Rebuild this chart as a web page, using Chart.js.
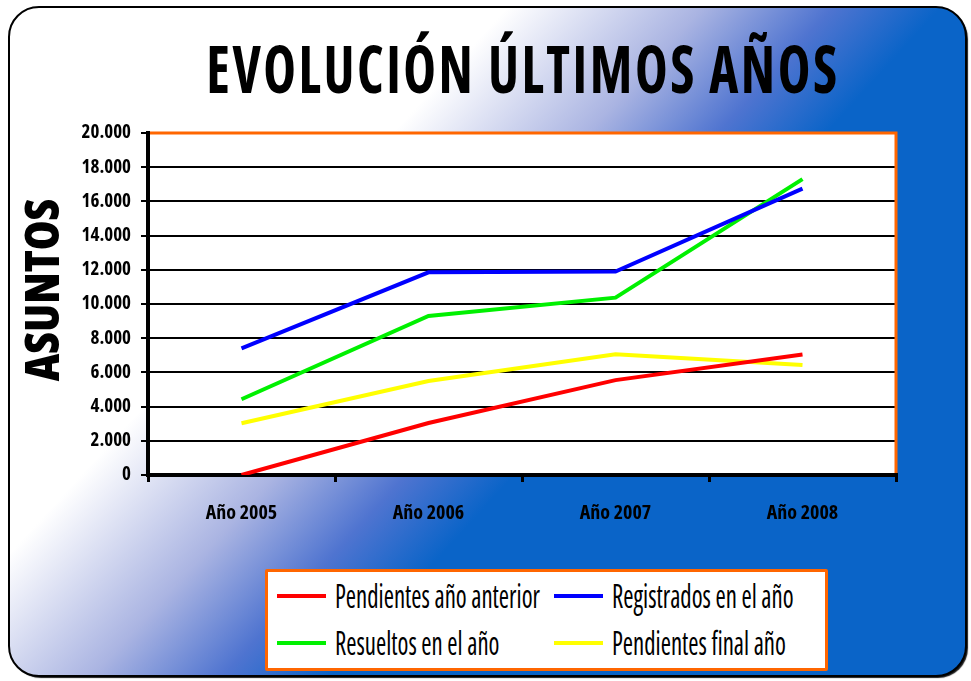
<!DOCTYPE html>
<html>
<head>
<meta charset="utf-8">
<script src="https://cdn.jsdelivr.net/npm/chart.js@4"></script>
<style>
  html, body { margin: 0; padding: 0; background: #fff; }
  #wrap { position: relative; width: 971px; height: 681px; }
  #titulo {
    position: absolute; left: 523px; top: 34px; white-space: nowrap;
    font-family: "Open Sans", sans-serif; font-weight: 700; font-stretch: 75%;
    font-size: 66px; line-height: 1; letter-spacing: 3px; color: #000;
    transform: translateX(-50%) scaleX(0.837);
  }
  #leyenda {
    position: absolute; left: 265px; top: 569px; width: 557px; height: 96px;
    background: #fff; border: 3px solid #ff6600; border-radius: 2px;
  }
  .item { position: absolute; height: 34px; }
  .item i { position: absolute; left: 0; top: 15px; width: 49px; height: 4px; }
  .item span {
    position: absolute; left: 58px; top: -4px; white-space: nowrap;
    font-family: "Open Sans", sans-serif; font-stretch: 75%; font-size: 33px; line-height: 42px;
    transform: scaleX(0.75); transform-origin: 0 50%;
  }
</style>
</head>
<body>
<div id="wrap">
  <canvas id="grafico" width="971" height="681"></canvas>
  <div id="titulo">EVOLUCIÓN ÚLTIMOS AÑOS</div>
  <div id="leyenda"></div>
</div>
<script>
const anios = ['Año 2005', 'Año 2006', 'Año 2007', 'Año 2008'];
const pendientesAnterior = [0, 3040, 5550, 7050];
const registrados = [7400, 11850, 11900, 16750];
const resueltos = [4430, 9300, 10370, 17300];
const pendientesFinal = [3030, 5500, 7060, 6430];

const fuente = '"Open Sans", sans-serif';
const tituloEje = 'ASUNTOS';

// miles con punto: 20000 -> 20.000
function conPunto(n) {
  return String(n).replace(/\B(?=(\d{3})+(?!\d))/g, '.');
}

// fondo redondeado con degradado, zona de trazado en blanco y rótulo del eje
const fondo = {
  id: 'fondo',
  beforeDraw(chart) {
    const ctx = chart.ctx;
    const a = chart.chartArea;
    ctx.save();
    ctx.fillStyle = '#fff';
    ctx.fillRect(0, 0, chart.width, chart.height);

    const dx = 0.739, dy = 0.674;
    const g = ctx.createLinearGradient(380 * dx, 380 * dy, 700 * dx, 700 * dy);
    g.addColorStop(0, '#ffffff');
    g.addColorStop(0.45, '#aab4e2');
    g.addColorStop(0.75, '#4f74d0');
    g.addColorStop(1, '#0a64c8');

    ctx.beginPath();
    ctx.roundRect(9, 7, 957, 669, 30);
    ctx.shadowColor = 'rgba(0,0,0,0.9)';
    ctx.shadowOffsetX = 2;
    ctx.shadowOffsetY = 2;
    ctx.shadowBlur = 1;
    ctx.fillStyle = g;
    ctx.fill();
    ctx.shadowColor = 'transparent';
    ctx.lineWidth = 2;
    ctx.strokeStyle = '#000';
    ctx.stroke();

    ctx.fillStyle = '#fff';
    ctx.fillRect(a.left, a.top, a.right - a.left, a.bottom - a.top);
    ctx.restore();
  },
  afterDraw(chart) {
    const ctx = chart.ctx;
    const a = chart.chartArea;
    ctx.save();
    ctx.strokeStyle = '#ff6600';
    ctx.lineWidth = 3;
    ctx.beginPath();
    ctx.moveTo(a.left + 2, a.top);
    ctx.lineTo(a.right, a.top);
    ctx.lineTo(a.right, a.bottom - 2);
    ctx.stroke();

    ctx.translate(43, 290);
    ctx.rotate(-Math.PI / 2);
    ctx.font = '800 condensed 48px ' + fuente;
    ctx.fillStyle = '#000';
    ctx.textAlign = 'center';
    ctx.textBaseline = 'middle';
    ctx.fillText(tituloEje, 0, 2);
    ctx.restore();
  }
};

const chart = new Chart(document.getElementById('grafico'), {
  type: 'line',
  data: {
    labels: anios,
    datasets: [
      { label: 'Pendientes año anterior', data: pendientesAnterior, borderColor: '#ff0000' },
      { label: 'Registrados en el año', data: registrados, borderColor: '#0000ff' },
      { label: 'Resueltos en el año', data: resueltos, borderColor: '#00f000' },
      { label: 'Pendientes final año', data: pendientesFinal, borderColor: '#ffff00' }
    ]
  },
  options: {
    responsive: false,
    animation: false,
    layout: { padding: { top: 133, right: 75, bottom: 146, left: 0 } },
    elements: {
      line: { borderWidth: 4, tension: 0, borderCapStyle: 'butt' },
      point: { radius: 0, hoverRadius: 0 }
    },
    plugins: {
      legend: { display: false },
      tooltip: { enabled: false }
    },
    scales: {
      x: {
        offset: true,
        afterFit(s) { s.height = 60; },
        grid: { offset: true, drawOnChartArea: false, color: '#000', lineWidth: 3, tickLength: 7 },
        border: { color: '#000', width: 4 },
        ticks: { color: '#000', padding: 19, font: { family: fuente, size: 20, weight: 'bold condensed' } }
      },
      y: {
        min: 0,
        max: 20000,
        afterFit(s) { s.width = 148; },
        grid: {
          color: c => (c.tick && c.tick.value === 20000 ? '#ff6600' : '#000'),
          tickColor: '#000',
          lineWidth: 2,
          tickLength: 7
        },
        border: { color: '#000', width: 4 },
        ticks: {
          stepSize: 2000,
          color: '#000',
          padding: 10,
          font: { family: fuente, size: 19, weight: 'bold condensed' },
          callback: v => conPunto(v)
        }
      }
    }
  },
  plugins: [fondo]
});

// leyenda en dos columnas a partir de las series
const leyenda = document.getElementById('leyenda');
const posiciones = [[9, 7], [286, 7], [9, 54], [286, 54]];
chart.data.datasets.forEach((ds, i) => {
  const el = document.createElement('div');
  el.className = 'item';
  el.style.left = posiciones[i][0] + 'px';
  el.style.top = posiciones[i][1] + 'px';
  const raya = document.createElement('i');
  raya.style.background = ds.borderColor;
  const txt = document.createElement('span');
  txt.textContent = ds.label;
  el.appendChild(raya);
  el.appendChild(txt);
  leyenda.appendChild(el);
});
</script>
</body>
</html>
